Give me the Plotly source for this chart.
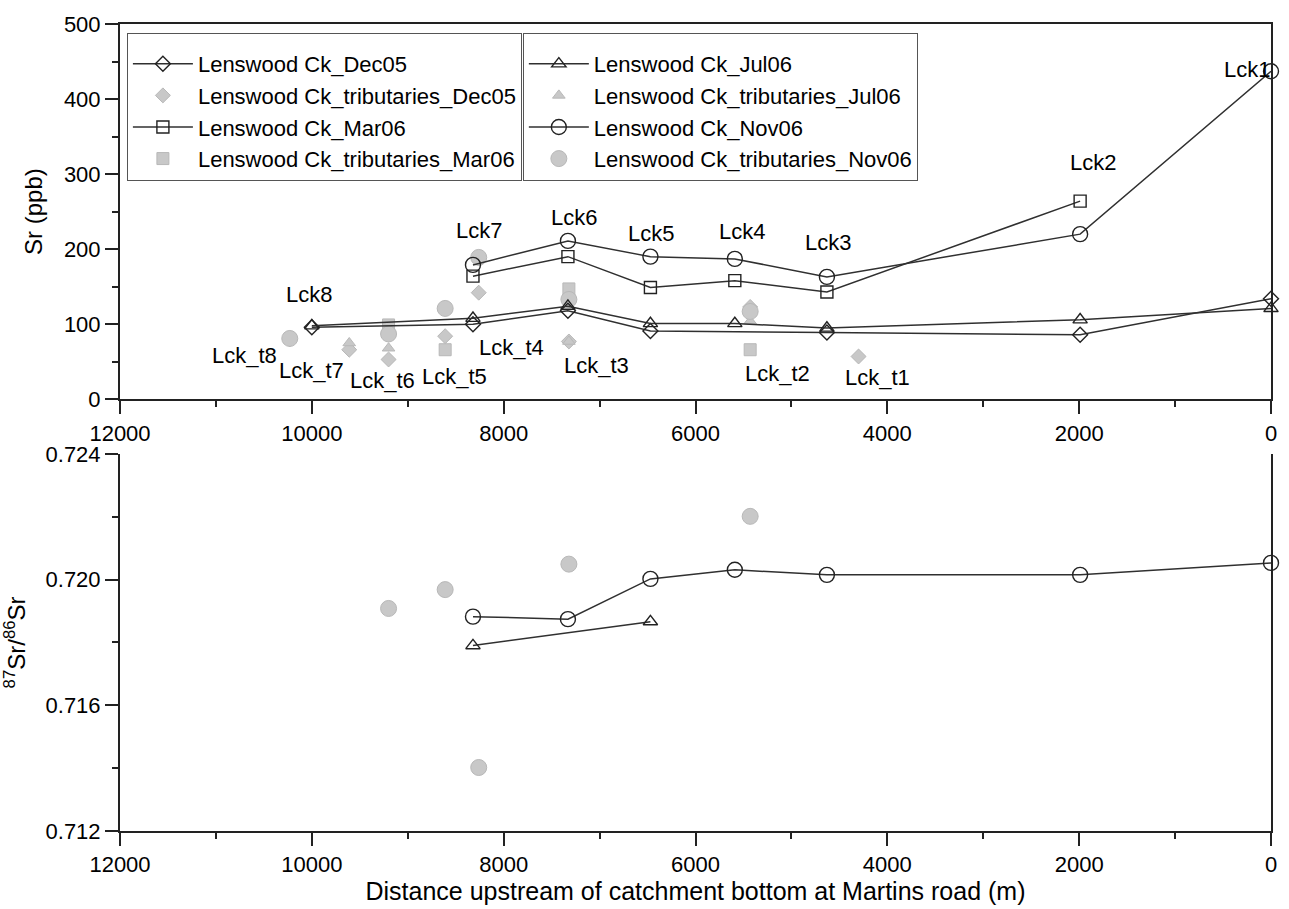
import plotly.graph_objects as go

# Main-stem sampling sites, distance upstream of the catchment outlet (m)
site_names = ["Lck1", "Lck2", "Lck3", "Lck4", "Lck5", "Lck6", "Lck7", "Lck8"]
site_dist = [0, 1990, 4630, 5590, 6470, 7330, 8320, 10000]

# Sr concentration (ppb) on the main stem, per sampling campaign (None = not sampled)
sr_dec05 = [134, 86, 89, None, 91, 118, 100, 96]
sr_mar06 = [None, 264, 143, 158, 149, 190, 164, None]
sr_jul06 = [121, 106, 95, 101, 101, 124, 108, 98]
sr_nov06 = [437, 220, 163, 187, 190, 211, 179, None]

# Tributary sampling sites
trib_names = ["Lck_t1", "Lck_t2", "Lck_t3", "Lck_t4", "Lck_t5", "Lck_t6", "Lck_t7", "Lck_t8"]
trib_dist = [4300, 5430, 7320, 8260, 8610, 9200, 9610, 10230]

# Sr concentration (ppb) in tributaries
trib_dec05 = [57, 123, 77, 142, 84, 53, 66, 80]
trib_mar06 = [None, 66, 147, None, 66, 99, None, None]
trib_jul06 = [None, 104, 77, None, None, 68, 75, None]
trib_nov06 = [None, 117, 133, 189, 121, 87, None, 81]

# 87Sr/86Sr ratios
ratio_jul06 = [None, None, None, None, 0.71866, None, 0.71790, None]
ratio_nov06 = [0.72053, 0.72015, 0.72015, 0.72031, 0.72002, 0.71874, 0.71882, None]
trib_ratio_nov06 = [None, 0.72201, 0.72049, 0.71402, 0.71968, 0.71908, None, None]

# Where each site label sits (distance, ppb)
site_label_pos = [(250, 440), (1860, 315), (4620, 209), (5520, 223), (6465, 221),
                  (7270, 242), (8260, 225), (10030, 140)]
trib_label_pos = [(4100, 29), (5150, 34), (7030, 45), (7920, 69), (8510, 30),
                  (9260, 25), (10000, 38), (10700, 58)]

FONT = "Arial, 'Liberation Sans', sans-serif"
INK = "#222222"
GREY_FILL = "#c8c8c8"
GREY_EDGE = "#b8b8b8"
FS = 22

fig = go.Figure()

open_style = dict(color="rgba(0,0,0,0)", line=dict(color=INK, width=1.4))
sizes = {"diamond": 11.5, "square": 12, "triangle-up": 12.5, "circle": 15}
tsizes = {"diamond": 11.5, "square": 12, "triangle-up": 11, "circle": 16}


def main_trace(y, sym, name, legend, rank, xa="x", ya="y", show=True):
    return go.Scatter(
        x=site_dist, y=y, mode="lines+markers", name=name,
        line=dict(color="#303030", width=1.5), connectgaps=True,
        marker=dict(symbol=sym, size=sizes[sym], **open_style),
        legend=legend, legendrank=rank, showlegend=show,
        xaxis=xa, yaxis=ya, cliponaxis=False,
    )


def trib_trace(y, sym, name, legend, rank, xa="x", ya="y", show=True):
    return go.Scatter(
        x=trib_dist, y=y, mode="markers", name=name,
        marker=dict(symbol=sym, size=tsizes[sym], color=GREY_FILL,
                    line=dict(color=GREY_EDGE, width=1)),
        legend=legend, legendrank=rank, showlegend=show,
        xaxis=xa, yaxis=ya, cliponaxis=False,
    )


# tributaries underneath, main stem on top
fig.add_trace(trib_trace(trib_dec05, "diamond", "Lenswood Ck_tributaries_Dec05", "legend", 2))
fig.add_trace(trib_trace(trib_mar06, "square", "Lenswood Ck_tributaries_Mar06", "legend", 4))
fig.add_trace(trib_trace(trib_jul06, "triangle-up", "Lenswood Ck_tributaries_Jul06", "legend2", 6))
fig.add_trace(trib_trace(trib_nov06, "circle", "Lenswood Ck_tributaries_Nov06", "legend2", 8))
fig.add_trace(main_trace(sr_dec05, "diamond", "Lenswood Ck_Dec05", "legend", 1))
fig.add_trace(main_trace(sr_mar06, "square", "Lenswood Ck_Mar06", "legend", 3))
fig.add_trace(main_trace(sr_jul06, "triangle-up", "Lenswood Ck_Jul06", "legend2", 5))
fig.add_trace(main_trace(sr_nov06, "circle", "Lenswood Ck_Nov06", "legend2", 7))

# isotope ratio panel
fig.add_trace(trib_trace(trib_ratio_nov06, "circle", "trib Nov06", "legend", 9, "x2", "y2", False))
fig.add_trace(main_trace(ratio_jul06, "triangle-up", "Jul06", "legend", 10, "x2", "y2", False))
fig.add_trace(main_trace(ratio_nov06, "circle", "Nov06", "legend", 11, "x2", "y2", False))

annotations = []
for name, (px, py) in zip(site_names, site_label_pos):
    annotations.append(dict(x=px, y=py, xref="x", yref="y", text=name, showarrow=False,
                            font=dict(size=FS, color="black", family=FONT)))
for name, (px, py) in zip(trib_names, trib_label_pos):
    annotations.append(dict(x=px, y=py, xref="x", yref="y", text=name, showarrow=False,
                            font=dict(size=FS, color="black", family=FONT)))

axis_common = dict(
    showline=True, linecolor=INK, linewidth=2, ticks="outside", ticklen=13,
    tickwidth=1.5, tickcolor=INK, showgrid=False, zeroline=False,
    tickfont=dict(size=FS, color="black", family=FONT),
)

legend_common = dict(
    xanchor="left", yanchor="top", bgcolor="white", bordercolor="#555555",
    borderwidth=1, font=dict(size=FS, color="black", family=FONT),
    tracegroupgap=0, itemwidth=60, traceorder="normal",
    title=dict(text=" ", font=dict(size=7)),
)

fig.update_layout(
    width=1289, height=909,
    margin=dict(l=120, r=18, t=22, b=74),
    plot_bgcolor="white", paper_bgcolor="white",
    font=dict(family=FONT, color="black"),
    xaxis=dict(range=[12000, 0], dtick=2000, tickformat="d", domain=[0, 1], anchor="y",
               mirror=True,
               minor=dict(dtick=1000, ticklen=6, ticks="outside", tickcolor=INK, tickwidth=1.5),
               **axis_common),
    yaxis=dict(range=[0, 500], dtick=100, domain=[0.535, 1], anchor="x", mirror=True,
               minor=dict(dtick=50, ticklen=6, ticks="outside", tickcolor=INK, tickwidth=1.5),
               title=dict(text="Sr (ppb)", font=dict(size=24, family=FONT), standoff=14),
               **axis_common),
    xaxis2=dict(range=[12000, 0], dtick=2000, tickformat="d", domain=[0, 1], anchor="y2",
                minor=dict(dtick=1000, ticklen=6, ticks="outside", tickcolor=INK, tickwidth=1.5),
                title=dict(text="Distance upstream of catchment bottom at Martins road (m)",
                           font=dict(size=25, family=FONT), standoff=2),
                **axis_common),
    yaxis2=dict(range=[0.712, 0.724], dtick=0.004, domain=[0, 0.4674], anchor="x2", mirror=True,
                tickformat=".3f",
                minor=dict(dtick=0.002, ticklen=6, ticks="outside", tickcolor=INK, tickwidth=1.5),
                title=dict(text="<sup>87</sup>Sr/<sup>86</sup>Sr", font=dict(size=24, family=FONT),
                           standoff=14),
                **axis_common),
    legend=dict(x=0.006, y=0.989, **legend_common),
    legend2=dict(x=0.350, y=0.989, **legend_common),
    annotations=annotations,
    showlegend=True,
)

fig.write_html("out.html")
